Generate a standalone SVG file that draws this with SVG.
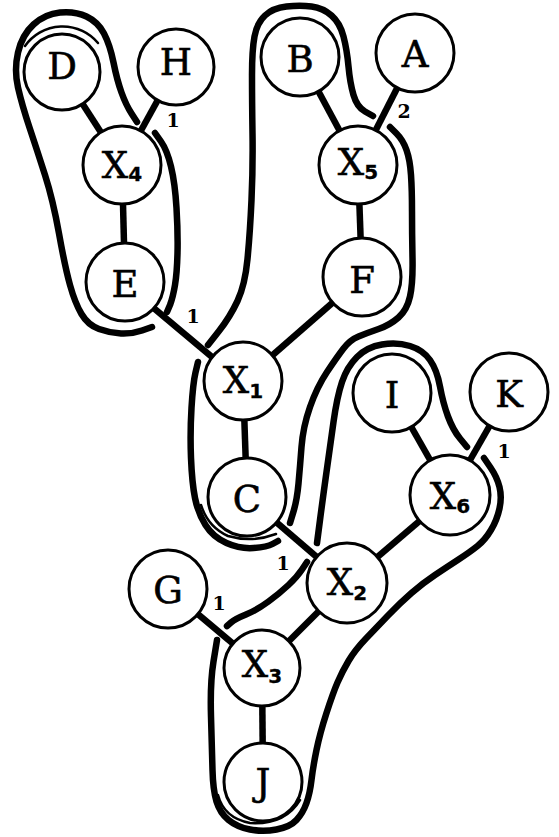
<svg xmlns="http://www.w3.org/2000/svg" width="559" height="837" viewBox="0 0 559 837">
  <style>
    .edge { stroke: #000; stroke-width: 6.5; stroke-linecap: butt; }
    .hull { fill: none; stroke: #000; stroke-width: 6.5; stroke-linecap: round; stroke-linejoin: round; }
    .hull-in { fill: none; stroke: #000; stroke-width: 2.5; stroke-linecap: round; }
    .node circle { fill: #fff; stroke: #000; stroke-width: 3; }
    .node text { font-family: "DejaVu Serif", "Liberation Serif", serif; font-size: 37px; text-anchor: middle; fill: #000; stroke: #000; stroke-width: 0.6; }
    .node tspan { font-family: "DejaVu Sans", "Liberation Sans", sans-serif; font-size: 20px; font-weight: bold; stroke-width: 0.3; }
    .wt { font-family: "DejaVu Serif", "Liberation Serif", serif; font-size: 19px; font-weight: bold; text-anchor: middle; fill: #000; }
  </style>

  <rect width="559" height="837" fill="#fff"/>

  <!-- tree edges -->
  <g id="edges">
    <line class="edge" x1="62" y1="72" x2="122" y2="165"/>
    <line class="edge" x1="176" y1="67" x2="122" y2="165"/>
    <line class="edge" x1="122" y1="165" x2="125" y2="282"/>
    <line class="edge" x1="300" y1="57" x2="358" y2="165"/>
    <line class="edge" x1="415" y1="53" x2="358" y2="165"/>
    <line class="edge" x1="358" y1="165" x2="362" y2="277"/>
    <line class="edge" x1="125" y1="284" x2="243" y2="383"/>
    <line class="edge" x1="362" y1="277" x2="243" y2="381"/>
    <line class="edge" x1="243" y1="381" x2="247" y2="497"/>
    <line class="edge" x1="247" y1="497" x2="347" y2="583"/>
    <line class="edge" x1="450" y1="495" x2="347" y2="583"/>
    <line class="edge" x1="392" y1="393" x2="450" y2="495"/>
    <line class="edge" x1="509" y1="392" x2="450" y2="495"/>
    <line class="edge" x1="347" y1="583" x2="262" y2="668"/>
    <line class="edge" x1="168" y1="589" x2="262" y2="668"/>
    <line class="edge" x1="262" y1="668" x2="263" y2="782"/>
  </g>

  <!-- cluster outlines, broken where edges pass through -->
  <g id="clusters">
    <!-- D, X4, E -->
    <path class="hull" d="M155,133 L161,141.5 Q167,150 171,166.5 Q175,183 176.5,208 Q178,233 177.5,253 Q177,273 175,285 Q173,297 170,305 L167,312"/>
    <path class="hull" d="M152,327 L142,330.5 Q132,334 121,333.5 Q110,333 99,329 Q88,325 81.5,314 Q75,303 70,285 Q65,267 59,233.5 Q53,200 45,175 Q37,150 29.5,127.5 Q22,105 18,87.5 Q14,70 18,52.5 Q22,35 33.5,24.5 Q45,14 60,12.5 Q75,11 86.5,16.5 Q98,22 104,33.5 Q110,45 113.5,62.5 Q117,80 121.5,92.5 Q126,105 131.5,113.5 L137,122"/>
    <path class="hull-in" d="M25,46 A46,46 0 0 1 98,43"/>

    <!-- B, X5, F, X1, C -->
    <path class="hull" d="M373,116 L365,111.5 Q357,107 353.5,95 Q350,83 348.5,66.5 Q347,50 343.5,36.5 Q340,23 331.5,15.5 Q323,8 311.5,6.5 Q300,5 286.5,6.5 Q273,8 265,15.5 Q257,23 254.5,36.5 Q252,50 252,75 Q252,100 252.5,133.5 Q253,167 251.5,200 Q250,233 247.5,259 Q245,285 237.5,301 Q230,317 219,331 L208,345"/>
    <path class="hull" d="M198,362 L195.5,372.5 Q193,383 191.5,408 Q190,433 191,458 Q192,483 195,498 Q198,513 205.5,525 Q213,537 226.5,543 Q240,549 253.5,548 Q267,547 272.5,544 L278,541"/>
    <path class="hull-in" d="M201,505 Q208,527 228,536 Q252,543 276,534"/>
    <path class="hull" d="M390,127 L396.5,133.5 Q403,140 406.5,150 Q410,160 411,175 Q412,190 412,211.5 Q412,233 412.5,258 Q413,283 410,296.5 Q407,310 398.5,317.5 Q390,325 378.5,329 Q367,333 358.5,336.5 Q350,340 343.5,348.5 Q337,357 327,372 Q317,387 310,407 Q303,427 301.5,447 Q300,467 298.5,483.5 Q297,500 293.5,511.5 L290,523"/>

    <!-- I, X6, X2, X3, J -->
    <path class="hull" d="M317,543 L320,520 Q323,497 326.5,472 Q330,447 333.5,422 Q337,397 342,382 Q347,367 357,357 Q367,347 382,344.5 Q397,342 410,346 Q423,350 430,360 Q437,370 440,386.5 Q443,403 448,416.5 Q453,430 460,438.5 L467,447"/>
    <path class="hull" d="M484,458 L490.5,467.5 Q497,477 499.5,487 Q502,497 499.5,508.5 Q497,520 491,530 Q485,540 477.5,546 Q470,552 458.5,559.5 Q447,567 435,575 Q423,583 411.5,593 Q400,603 388.5,615 Q377,627 366,638.5 Q355,650 348.5,661 Q342,672 337.5,682.5 Q333,693 326.5,713 Q320,733 316.5,750 Q313,767 311.5,780 Q310,793 306.5,803 Q303,813 296.5,820 Q290,827 276.5,829.5 Q263,832 250,829.5 Q237,827 228.5,820 Q220,813 216.5,801.5 Q213,790 212.5,770 Q212,750 211,716.5 Q210,683 213.5,661.5 L217,640"/>
    <path class="hull-in" d="M218,795 Q224,818 250,823 Q285,825 300,800"/>
    <path class="hull" d="M227,626 L231,622.5 Q235,619 246,614.5 Q257,610 268.5,601.5 Q280,593 288.5,585 Q297,577 302,569.5 L307,562"/>
  </g>

  <!-- nodes -->
  <g id="D" class="node"><circle cx="62" cy="72" r="38"/><text x="62" y="79">D</text></g>
  <g id="H" class="node"><circle cx="176" cy="67" r="38"/><text x="176" y="75">H</text></g>
  <g id="X4" class="node"><circle cx="122" cy="165" r="39"/><text x="122" y="178">X<tspan dy="3">4</tspan></text></g>
  <g id="E" class="node"><circle cx="125" cy="282" r="39"/><text x="125" y="297">E</text></g>
  <g id="B" class="node"><circle cx="300" cy="57" r="39"/><text x="300" y="72">B</text></g>
  <g id="A" class="node"><circle cx="415" cy="53" r="39"/><text x="415" y="67">A</text></g>
  <g id="X5" class="node"><circle cx="358" cy="165" r="39"/><text x="358" y="175">X<tspan dy="4">5</tspan></text></g>
  <g id="F" class="node"><circle cx="362" cy="277" r="39"/><text x="362" y="293">F</text></g>
  <g id="X1" class="node"><circle cx="243" cy="381" r="39"/><text x="243" y="393">X<tspan dy="5">1</tspan></text></g>
  <g id="C" class="node"><circle cx="247" cy="497" r="39"/><text x="247" y="512">C</text></g>
  <g id="I" class="node"><circle cx="392" cy="393" r="39"/><text x="392" y="408">I</text></g>
  <g id="K" class="node"><circle cx="509" cy="392" r="39"/><text x="509" y="407">K</text></g>
  <g id="X6" class="node"><circle cx="450" cy="495" r="40"/><text x="450" y="509">X<tspan dy="4">6</tspan></text></g>
  <g id="G" class="node"><circle cx="168" cy="589" r="39"/><text x="168" y="603">G</text></g>
  <g id="X2" class="node"><circle cx="347" cy="583" r="40"/><text x="347" y="595">X<tspan dy="5">2</tspan></text></g>
  <g id="X3" class="node"><circle cx="262" cy="668" r="38"/><text x="262" y="677">X<tspan dy="6">3</tspan></text></g>
  <g id="J" class="node"><circle cx="263" cy="782" r="39"/><text x="263" y="795">J</text></g>

  <!-- edge weights -->
  <g id="weights">
    <text class="wt" x="173" y="127">1</text>
    <text class="wt" x="404" y="118">2</text>
    <text class="wt" x="193" y="323">1</text>
    <text class="wt" x="504" y="458">1</text>
    <text class="wt" x="283" y="570">1</text>
    <text class="wt" x="219" y="610">1</text>
  </g>
</svg>
